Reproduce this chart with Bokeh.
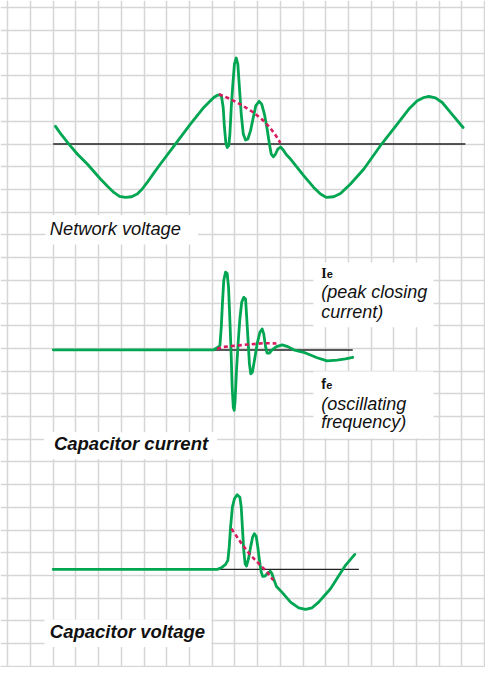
from bokeh.plotting import figure
from bokeh.models import Range1d, Grid, FixedTicker
from bokeh.embed import file_html
from bokeh.resources import INLINE
from bokeh.core.properties import value

# ---- data (time and amplitude in grid-cell units) ----
nv_t = [2.10, 2.36, 2.69, 3.07, 3.50, 4.08, 4.39, 4.67, 4.92, 5.18, 5.45, 5.70, 5.91, 6.14, 6.42,
        6.72, 7.38, 8.04, 8.63, 8.88, 9.07, 9.23, 9.34, 9.41, 9.485, 9.54, 9.60, 9.66, 9.73, 9.78,
        9.84, 9.91, 9.98, 10.06, 10.13, 10.20, 10.28, 10.37, 10.47, 10.57, 10.69, 10.81, 10.92, 11.07, 11.18,
        11.30, 11.42, 11.52, 11.60, 11.69, 11.79, 11.89, 12.01, 12.13, 12.27, 12.45, 13.03, 13.47, 13.77, 14.03,
        14.35, 14.65, 15.09, 15.68, 16.46, 17.15, 17.66, 18.03, 18.32, 18.54, 18.83, 19.13, 19.49, 20.05]
nv_v = [0.78, 0.41, 0, -0.45, -0.88, -1.54, -1.86, -2.13, -2.30, -2.35, -2.32, -2.20, -1.99, -1.69, -1.29,
        -0.88, 0, 0.88, 1.61, 1.86, 2.05, 2.15, 2.17, 2.10, 1.61, 0.73, 0.07, -0.15, -0.07, 0.44,
        1.61, 2.64, 3.52, 3.79, 3.52, 2.49, 1.32, 0.44, 0.18, 0.22, 0.59, 1.17, 1.69, 1.88, 1.76,
        1.32, 0.66, 0, -0.44, -0.56, -0.44, -0.22, -0.13, -0.26, -0.47, -0.66, -1.39, -1.91, -2.20, -2.35,
        -2.32, -2.18, -1.76, -1.10, 0, 0.88, 1.54, 1.91, 2.05, 2.10, 2.03, 1.83, 1.39, 0.73]
nv_dash_t = [9.30, 9.80, 10.30, 10.80, 11.20, 11.55, 11.80, 12.00]
nv_dash_v = [2.20, 1.98, 1.72, 1.40, 1.08, 0.72, 0.38, 0.05]
nv_axis = [2.00, 20.15]

cc_t = [2.00, 9.07, 9.22, 9.34, 9.40, 9.45, 9.51, 9.59, 9.66, 9.72, 9.78, 9.84, 9.88, 9.93, 9.97,
        10.01, 10.07, 10.15, 10.22, 10.30, 10.39, 10.47, 10.52, 10.59, 10.64, 10.70, 10.77, 10.86, 10.98, 11.10,
        11.20, 11.27, 11.35, 11.42, 11.51, 11.64, 11.83, 12.08, 12.33, 12.59, 13.03, 13.62, 14.06, 14.50, 14.87,
        15.19]
cc_v = [0.01, 0.01, 0.10, 0.20, 1.00, 2.03, 3.06, 3.43, 3.38, 2.77, 1.30, -0.32, -1.64, -2.52, -2.66,
        -2.22, -0.90, 0.42, 1.37, 2.10, 2.32, 2.25, 1.44, 0.27, -0.61, -1.05, -0.98, -0.46, 0.27, 0.78,
        0.93, 0.71, 0.15, -0.14, -0.14, 0.01, 0.15, 0.23, 0.15, 0.01, -0.10, -0.34, -0.48, -0.44, -0.39,
        -0.32]
cc_dash_t = [9.22, 9.45, 9.81, 10.54, 11.27, 11.83]
cc_dash_v = [0.05, 0.13, 0.17, 0.24, 0.30, 0.29]
cc_axis = [2.00, 15.19]

cv_t = [2.00, 9.22, 9.40, 9.59, 9.69, 9.75, 9.81, 9.89, 9.98, 10.10, 10.22, 10.28, 10.33, 10.39, 10.45,
        10.51, 10.60, 10.69, 10.78, 10.86, 10.94, 11.01, 11.08, 11.16, 11.23, 11.32, 11.42, 11.55, 11.63, 11.70,
        11.83, 12.08, 12.45, 12.81, 13.11, 13.40, 13.69, 14.21, 14.87, 15.28]
cv_v = [0, 0, 0.07, 0.22, 0.40, 0.98, 1.86, 2.74, 3.11, 3.29, 3.18, 2.74, 1.86, 0.84, 0.25,
        0.15, 0.47, 0.98, 1.42, 1.57, 1.45, 0.98, 0.40, -0.12, -0.31, -0.30, -0.19, -0.08, -0.18, -0.40,
        -0.75, -1.01, -1.44, -1.69, -1.76, -1.69, -1.44, -0.85, 0.18, 0.66]
cv_dash_t = [9.85, 10.25, 10.69, 11.13, 11.42, 11.69]
cv_dash_v = [1.79, 1.20, 0.62, 0.18, -0.12, -0.48]
cv_axis = [2.00, 15.46]

titles = ["Network voltage", "Capacitor current", "Capacitor voltage"]
ie_sym, ie_sub, ie_lines = "I", "e", ["(peak closing", "current)"]
fe_sym, fe_sub, fe_lines = "f", "e", ["(oscillating", "frequency)"]

# ---- layout ----
CELL = 22.71
W, H = 485, 667
X0 = -0.321
Y1 = 29.321
GREEN = "#00a651"
RED = "#d81b60"
GRID = "#d6d6d6"
INK = "#111111"

p = figure(width=W, height=H, x_range=Range1d(X0, X0 + W / CELL),
           y_range=Range1d(Y1 - H / CELL, Y1), output_backend="svg",
           toolbar_location=None, x_axis_location=None, y_axis_location=None,
           min_border=0)
p.outline_line_color = None
p.background_fill_color = "white"
p.add_layout(Grid(dimension=0, ticker=FixedTicker(ticks=list(range(0, 22))),
                  grid_line_color=GRID, grid_line_width=1.5))
p.add_layout(Grid(dimension=1, ticker=FixedTicker(ticks=list(range(0, 30))),
                  grid_line_color=GRID, grid_line_width=1.5))

bases = {"nv": 23.0, "cc": 13.93, "cv": 4.27}
ys, ye = p.y_range.start, p.y_range.end
p.extra_y_ranges = {k: Range1d(ys - b, ye - b) for k, b in bases.items()}

# white label boxes
p.quad(left=[1.66, 1.59, 1.62, 13.46, 13.46], right=[8.37, 9.22, 8.96, 18.75, 18.75],
       top=[19.88, 10.31, 2.06, 17.78, 12.98], bottom=[18.58, 9.13, 0.85, 14.93, 10.04],
       fill_color="white", line_color=None)

panels = [("nv", nv_t, nv_v, nv_dash_t, nv_dash_v, nv_axis),
          ("cc", cc_t, cc_v, cc_dash_t, cc_dash_v, cc_axis),
          ("cv", cv_t, cv_v, cv_dash_t, cv_dash_v, cv_axis)]
for name, t, v, dt, dv, ax in panels:
    p.line(ax, [0, 0], y_range_name=name, line_color="#222222", line_width=1.4)
    p.line(t, v, y_range_name=name, line_color=GREEN, line_width=2.8,
           line_join="round", line_cap="round")
    p.line(dt, dv, y_range_name=name, line_color=RED, line_width=2.6,
           line_dash="4 3")

FONT = value("Liberation Sans")
p.text(x=[1.85], y=[19.27], text=[titles[0]], text_font=FONT, text_font_size="18.3px",
       text_font_style="italic", text_baseline="alphabetic", text_color=INK)
p.text(x=[2.03, 1.85], y=[9.81, 1.54], text=titles[1:], text_font=FONT, text_font_size="18.5px",
       text_font_style="bold italic", text_baseline="alphabetic", text_color=INK)

p.text(x=[13.80], y=[17.29], text=[ie_sym], text_font=value("Liberation Serif"),
       text_font_size="14px", text_font_style="bold", text_baseline="alphabetic", text_color=INK)
p.text(x=[14.05, 14.02], y=[17.26, 12.41], text=[ie_sub, fe_sub], text_font=FONT,
       text_font_size="11px", text_font_style="bold", text_baseline="alphabetic", text_color=INK)
p.text(x=[13.80], y=[12.44], text=[fe_sym], text_font=FONT,
       text_font_size="14px", text_font_style="bold", text_baseline="alphabetic", text_color=INK)
p.text(x=[13.80] * 4, y=[16.49, 15.61, 11.57, 10.75], text=ie_lines + fe_lines, text_font=FONT,
       text_font_size="18px", text_font_style="italic", text_baseline="alphabetic", text_color=INK)

open("out.html", "w").write(file_html(p, INLINE))
